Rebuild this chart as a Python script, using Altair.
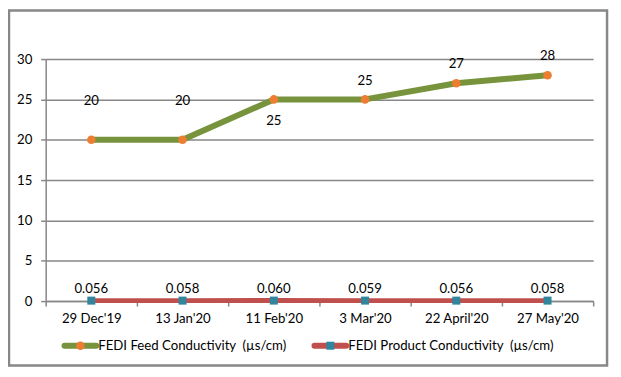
import altair as alt
import pandas as pd

dates = ["29 Dec'19", "13 Jan'20", "11 Feb'20", "3 Mar'20", "22 April'20", "27 May'20"]
feed = [20, 20, 25, 25, 27, 28]
product = [0.056, 0.058, 0.060, 0.059, 0.056, 0.058]
series = ["FEDI Feed Conductivity\u00a0\u00a0(µs/cm)", "FEDI Product Conductivity\u00a0\u00a0(µs/cm)"]
y_ticks = [0, 5, 10, 15, 20, 25, 30]

feed_df = pd.DataFrame({"date": dates, "value": feed, "label": [str(v) for v in feed]})
prod_df = pd.DataFrame({"date": dates, "value": product, "label": [f"{v:.3f}" for v in product]})

FONT = "Lato"
FS = 13.3
GREY = "#878787"
GREEN = "#77933C"
ORANGE = "#ED7D31"
RED = "#C0504D"
TEAL = "#31859C"

x = alt.X("date:N", sort=dates,
          scale=alt.Scale(type="band", paddingInner=0, paddingOuter=0),
          axis=alt.Axis(title=None, tickBand="extent", labelAngle=0, grid=False,
                        domainColor=GREY, domainWidth=1.5, tickColor=GREY, tickWidth=1.5,
                        tickSize=5, labelPadding=6, labelFont=FONT, labelFontSize=FS,
                        labelColor="#000000"))
y = alt.Y("value:Q", scale=alt.Scale(domain=[0, 30], nice=False, zero=True),
          axis=alt.Axis(title=None, values=y_ticks, grid=True, gridColor=GREY, gridWidth=1.5,
                        domainColor=GREY, domainWidth=1.5, tickColor=GREY, tickWidth=1.5,
                        tickSize=5, labelPadding=9, labelFont=FONT, labelFontSize=FS,
                        labelColor="#000000"))

base_feed = alt.Chart(feed_df)
base_prod = alt.Chart(prod_df)

feed_line = base_feed.mark_line(color=GREEN, strokeWidth=6, strokeCap="round", strokeJoin="round").encode(x=x, y=y)
prod_line = base_prod.mark_line(color=RED, strokeWidth=5, strokeCap="butt").encode(x=x, y=y)
feed_pts = base_feed.mark_point(shape="circle", filled=True, color=ORANGE, size=75, opacity=1).encode(x=x, y=y)
prod_pts = base_prod.mark_point(shape="square", filled=True, color=TEAL, size=65, opacity=1).encode(x=x, y=y)

txt = dict(font=FONT, fontSize=FS, color="#000000", align="center", baseline="middle")
feed_lbl_a = base_feed.transform_filter(
    alt.FieldOneOfPredicate(field="date", oneOf=[dates[0], dates[1]])
).mark_text(dy=-39, **txt).encode(x=x, y=y, text="label:N")
feed_lbl_b = base_feed.transform_filter(
    alt.FieldOneOfPredicate(field="date", oneOf=[dates[2]])
).mark_text(dy=22, **txt).encode(x=x, y=y, text="label:N")
feed_lbl_c = base_feed.transform_filter(
    alt.FieldOneOfPredicate(field="date", oneOf=dates[3:])
).mark_text(dy=-19, **txt).encode(x=x, y=y, text="label:N")
prod_lbl = base_prod.mark_text(dy=-12, **txt).encode(x=x, y=y, text="label:N")

# frame around the chart
frame = alt.Chart(pd.DataFrame({"k": [0]})).mark_rect(
    fill=None, stroke=GREY, strokeWidth=2.5, clip=False
).encode(x=alt.value(-37), x2=alt.value(566), y=alt.value(-49), y2=alt.value(309))

# legend (line + marker symbols)
leg1 = pd.DataFrame({"s": [series[0]]})
leg2 = pd.DataFrame({"s": [series[1]]})
LY = 289
l1_line = alt.Chart(leg1).mark_rule(color=GREEN, strokeWidth=6, strokeCap="round").encode(
    x=alt.value(19), x2=alt.value(51), y=alt.value(LY))
l1_pt = alt.Chart(leg1).mark_point(shape="circle", filled=True, color=ORANGE, size=75, opacity=1).encode(
    x=alt.value(35), y=alt.value(LY))
l1_txt = alt.Chart(leg1).mark_text(font=FONT, fontSize=FS, color="#000000", align="left",
                                   baseline="middle").encode(x=alt.value(53), y=alt.value(LY), text="s:N")
l2_line = alt.Chart(leg2).mark_rule(color=RED, strokeWidth=6, strokeCap="round").encode(
    x=alt.value(271), x2=alt.value(303), y=alt.value(LY))
l2_pt = alt.Chart(leg2).mark_point(shape="square", filled=True, color=TEAL, size=65, opacity=1).encode(
    x=alt.value(287), y=alt.value(LY))
l2_txt = alt.Chart(leg2).mark_text(font=FONT, fontSize=FS, color="#000000", align="left",
                                   baseline="middle").encode(x=alt.value(305), y=alt.value(LY), text="s:N")

chart = alt.layer(
    frame, prod_line, feed_line, feed_pts, prod_pts,
    feed_lbl_a, feed_lbl_b, feed_lbl_c, prod_lbl,
    l1_line, l1_pt, l1_txt, l2_line, l2_pt, l2_txt
).properties(
    width=552, height=244,
    autosize=alt.AutoSizeParams(type="none"),
    padding={"left": 38, "top": 50, "right": 20, "bottom": 70},
    background="#ffffff"
).configure_view(stroke=None)

chart.save("out.html", embed_options={"renderer": "svg", "actions": False})
